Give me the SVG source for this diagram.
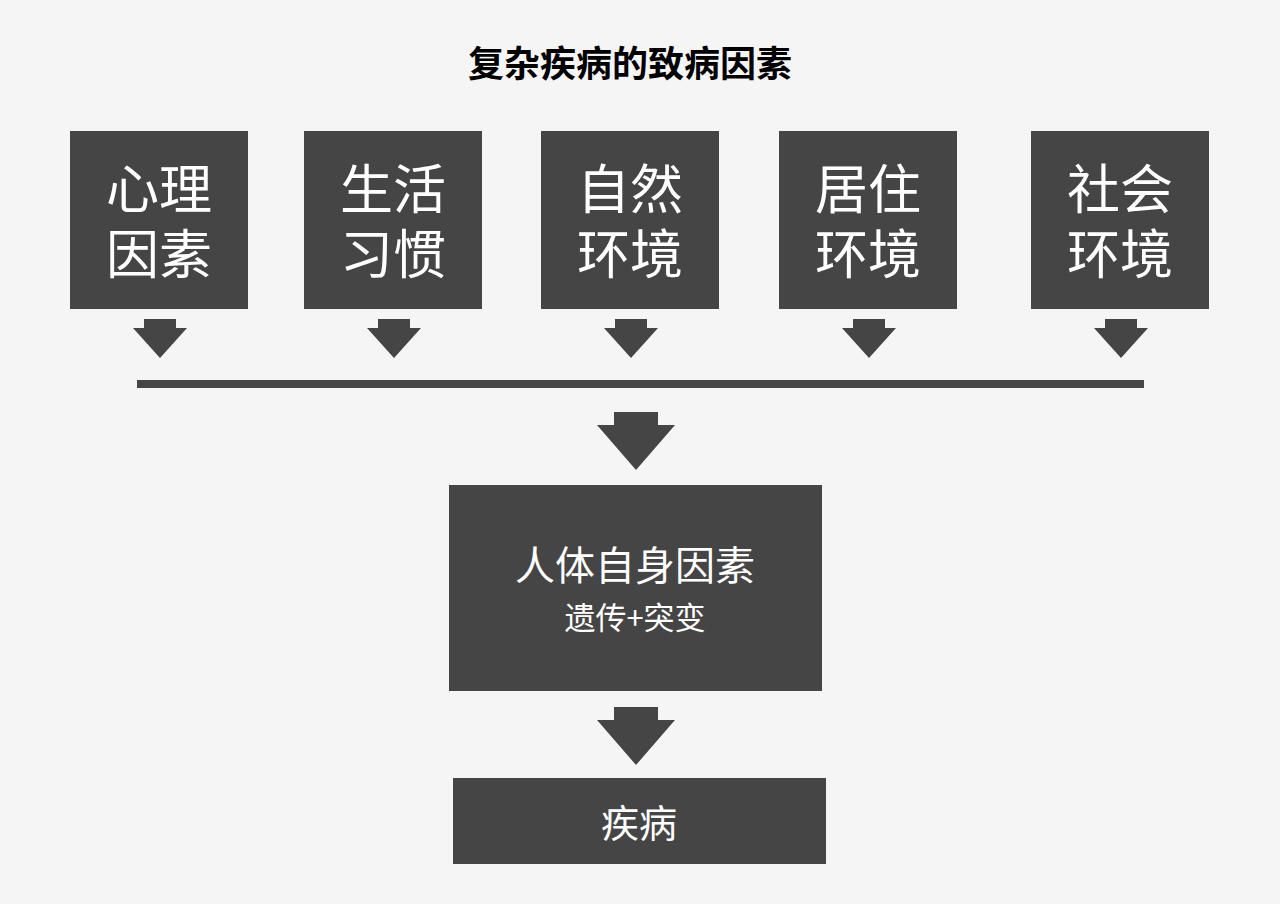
<svg xmlns="http://www.w3.org/2000/svg" width="1280" height="904" viewBox="0 0 1280 904">
<style>
.box{fill:#454545}
.arr{fill:#454545}
text{font-family:"Noto Sans CJK SC","Noto Sans",sans-serif;fill:#ffffff;text-anchor:middle;dominant-baseline:central}
.big{font-size:53px}
.title{fill:#000000;font-size:36px;font-weight:bold}
</style>
<rect width="1280" height="904" fill="#f5f5f5"/>
<text class="title" x="630" y="61">复杂疾病的致病因素</text>
<g id="n1"><rect class="box" x="70" y="131" width="178" height="178"/><text class="big"><tspan x="159" y="186">心理</tspan><tspan x="159" y="251">因素</tspan></text></g>
<g id="n2"><rect class="box" x="304" y="131" width="178" height="178"/><text class="big"><tspan x="393" y="186">生活</tspan><tspan x="393" y="251">习惯</tspan></text></g>
<g id="n3"><rect class="box" x="541" y="131" width="178" height="178"/><text class="big"><tspan x="630" y="186">自然</tspan><tspan x="630" y="251">环境</tspan></text></g>
<g id="n4"><rect class="box" x="779" y="131" width="178" height="178"/><text class="big"><tspan x="868" y="186">居住</tspan><tspan x="868" y="251">环境</tspan></text></g>
<g id="n5"><rect class="box" x="1031" y="131" width="178" height="178"/><text class="big"><tspan x="1120" y="186">社会</tspan><tspan x="1120" y="251">环境</tspan></text></g>
<g id="n6"><rect class="box" x="449" y="485" width="373" height="206"/><text x="635" y="563" font-size="40">人体自身因素</text><text x="635" y="615" font-size="31">遗传+突变</text></g>
<g id="n7"><rect class="box" x="453" y="778" width="373" height="86"/><text x="639" y="820" font-size="38">疾病</text></g>
<g id="connectors">
<path class="arr" d="M144 319h32v9h11l-27 30l-27-30h11z"/>
<path class="arr" d="M378 319h32v9h11l-27 30l-27-30h11z"/>
<path class="arr" d="M615 319h32v9h11l-27 30l-27-30h11z"/>
<path class="arr" d="M853 319h32v9h11l-27 30l-27-30h11z"/>
<path class="arr" d="M1105 319h32v9h11l-27 30l-27-30h11z"/>
<rect class="arr" x="137" y="380" width="1007" height="8"/>
<path class="arr" d="M614 412h44v13h17l-39 45l-39-45h17z"/>
<path class="arr" d="M614 707h44v13h17l-39 45l-39-45h17z"/>
</g>
</svg>
